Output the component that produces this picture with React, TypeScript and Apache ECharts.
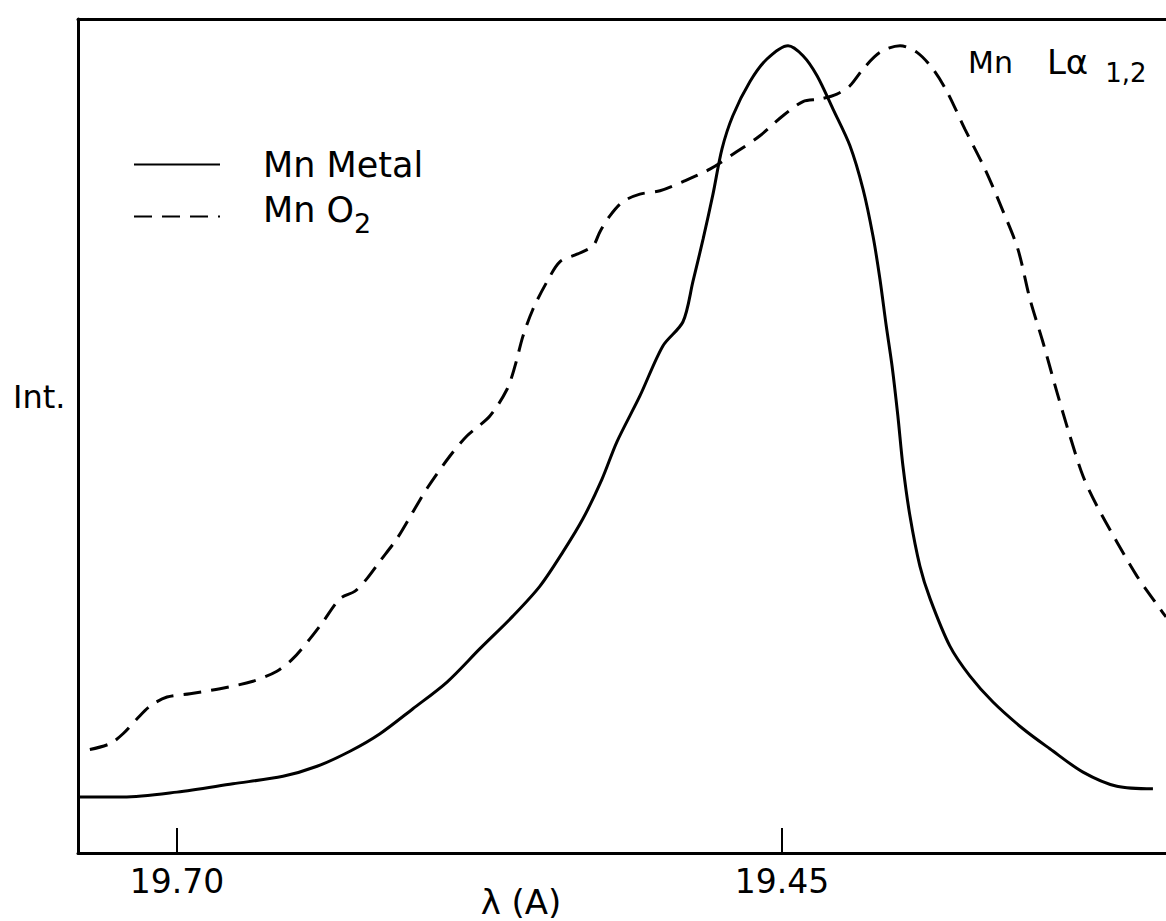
import React, { useEffect, useRef } from "react";
import * as echarts from "echarts";

const FONT = '"DejaVu Sans", "Liberation Sans", sans-serif';

// wavelength axis (Å), reversed: longer wavelength on the left
const X_MIN = 19.2913;
const X_MAX = 19.7409;
const TICK_VALUES = [19.7, 19.45];

// Mn metal spectrum
const metalLambda = [
  19.7409, 19.7223, 19.7, 19.6769, 19.6562, 19.6421, 19.6285, 19.6161, 19.6025, 19.5884,
  19.5748, 19.5612, 19.55, 19.5405, 19.5322, 19.5244, 19.5182, 19.5087, 19.4992, 19.4909,
  19.4868, 19.4826, 19.4785, 19.4748, 19.4703, 19.4632, 19.4562, 19.4475, 19.4413, 19.4355,
  19.4289, 19.4219, 19.4165, 19.4124, 19.4095, 19.407, 19.4045, 19.4021, 19.4, 19.3971,
  19.393, 19.3888, 19.3806, 19.3723, 19.3628, 19.3504, 19.3393, 19.3256, 19.3116, 19.2967,
];
const metalIntensity = [
  6.7, 6.7, 7.3, 8.3, 9.2, 10.4, 12.2, 14.3, 17.3, 20.5,
  24.5, 28.4, 32.0, 36.1, 40.1, 44.8, 49.3, 54.8, 60.8, 63.7,
  68.5, 73.6, 79.0, 84.4, 88.4, 92.5, 95.2, 96.8, 95.6, 93.2,
  89.2, 84.8, 79.6, 74.0, 68.8, 63.4, 58.4, 52.4, 46.4, 40.4,
  34.4, 30.5, 24.8, 21.2, 18.1, 14.9, 12.5, 9.7, 8.0, 7.7,
];

// MnO2 spectrum
const oxideLambda = [
  19.736, 19.7277, 19.7223, 19.7165, 19.7112, 19.7041, 19.6946, 19.6822, 19.6686, 19.6587,
  19.6521, 19.645, 19.6397, 19.6326, 19.6264, 19.6215, 19.6161, 19.6091, 19.6025, 19.5967,
  19.5872, 19.5802, 19.5707, 19.5636, 19.5603, 19.557, 19.5529, 19.5471, 19.5417, 19.5347,
  19.5281, 19.5252, 19.5211, 19.5157, 19.5087, 19.5004, 19.4909, 19.4798, 19.4686, 19.4591,
  19.4496, 19.4413, 19.4343, 19.4273, 19.4219, 19.4165, 19.4095, 19.4012, 19.3942, 19.3876,
  19.3818, 19.3744, 19.3661, 19.3587, 19.3525, 19.3475, 19.3422, 19.3364, 19.331, 19.3256,
  19.3198, 19.3116, 19.3033, 19.2938, 19.2913,
];
const oxideIntensity = [
  12.4, 13.1, 14.3, 16.1, 17.6, 18.7, 19.1, 19.7, 20.6, 21.8,
  23.3, 25.7, 27.7, 30.5, 31.4, 32.9, 35.0, 37.7, 40.9, 43.7,
  47.6, 50.0, 52.4, 55.6, 58.4, 62.0, 65.2, 68.5, 70.9, 71.8,
  72.8, 74.5, 76.4, 78.1, 79.0, 79.4, 80.5, 82.0, 84.1, 86.0,
  88.4, 90.1, 90.4, 91.0, 92.0, 94.0, 96.0, 96.8, 96.0, 94.0,
  91.3, 86.8, 82.0, 77.0, 72.4, 66.4, 61.3, 55.3, 50.0, 45.2,
  41.6, 37.3, 33.2, 29.3, 28.3,
];

const SERIES_NAMES = ["Mn Metal", "Mn O2"];

export default function App() {
  const ref = useRef<HTMLDivElement>(null);

  useEffect(() => {
    if (!ref.current) return;
    const chart = echarts.init(ref.current, null, { renderer: "svg" });
    const metalData = metalLambda.map((l, i) => [l, metalIntensity[i]]);
    const oxideData = oxideLambda.map((l, i) => [l, oxideIntensity[i]]);

    const axisLine = { show: true, onZero: false, lineStyle: { color: "#000", width: 3 } };

    chart.setOption({
      animation: false,
      backgroundColor: "#fff",
      grid: {
        left: 78,
        right: 0,
        top: 19,
        bottom: 68,
        containLabel: false,
        outerBoundsMode: "none",
      },
      xAxis: [
        {
          type: "value",
          min: X_MIN,
          max: X_MAX,
          inverse: true,
          position: "bottom",
          name: "λ (A)",
          nameLocation: "middle",
          nameGap: 32,
          nameMoveOverlap: false,
          nameTextStyle: {
            color: "#000",
            fontFamily: FONT,
            fontSize: 34,
            padding: [0, 202, 0, 0],
          },
          axisLine,
          axisTick: {
            show: true,
            inside: true,
            length: 25,
            customValues: TICK_VALUES,
            lineStyle: { color: "#000", width: 2 },
          },
          axisLabel: {
            show: true,
            customValues: TICK_VALUES,
            formatter: (v: number) => v.toFixed(2),
            margin: 12,
            color: "#000",
            fontFamily: FONT,
            fontSize: 33,
          },
          splitLine: { show: false },
        },
        {
          type: "value",
          min: X_MIN,
          max: X_MAX,
          inverse: true,
          position: "top",
          axisLine,
          axisTick: { show: false },
          axisLabel: { show: false },
          splitLine: { show: false },
        },
      ],
      yAxis: {
        type: "value",
        min: 0,
        max: 100,
        axisLine,
        axisTick: { show: false },
        axisLabel: { show: false },
        splitLine: { show: false },
      },
      legend: {
        orient: "vertical",
        left: 128,
        top: 142,
        itemWidth: 86,
        itemHeight: 14,
        itemGap: 10,
        data: SERIES_NAMES,
        itemStyle: { color: "rgba(0,0,0,0)", borderWidth: 0, opacity: 0 },
        formatter: (n: string) => (n === "Mn O2" ? "{a|Mn O}{s|2}" : n),
        textStyle: {
          color: "#000",
          fontFamily: FONT,
          fontSize: 35,
          padding: [0, 0, 0, 38],
          rich: {
            a: { color: "#000", fontFamily: FONT, fontSize: 35, padding: [0, 0, 14, 0] },
            s: { color: "#000", fontFamily: FONT, fontSize: 27, padding: [14, 0, 0, 0] },
          },
        },
      },
      graphic: [
        {
          type: "text",
          left: 13,
          top: 381,
          style: { text: "Int.", fill: "#000", fontFamily: FONT, fontSize: 32 },
        },
        {
          type: "text",
          left: 968,
          top: 45,
          style: {
            text: "{m|Mn}{l|Lα}{s|1,2}",
            rich: {
              m: { fill: "#000", fontFamily: FONT, fontSize: 30, padding: [0, 34, 12, 0] },
              l: { fill: "#000", fontFamily: FONT, fontSize: 34, padding: [0, 17, 12, 0] },
              s: { fill: "#000", fontFamily: FONT, fontSize: 26, padding: [10, 0, 0, 0] },
            },
          },
        },
      ],
      series: [
        {
          type: "line",
          name: "Mn Metal",
          data: metalData,
          symbol: "none",
          smooth: 0.3,
          lineStyle: { color: "#000", width: 3, type: "solid" },
          itemStyle: { color: "#000" },
        },
        {
          type: "line",
          name: "Mn O2",
          data: oxideData,
          symbol: "none",
          smooth: 0.3,
          lineStyle: { color: "#000", width: 3, type: [18, 10] },
          itemStyle: { color: "#000" },
        },
      ],
    });

    return () => chart.dispose();
  }, []);

  return (
    <div
      ref={ref}
      style={{ position: "fixed", left: 0, top: 0, width: 1166, height: 921, background: "#fff" }}
    />
  );
}
